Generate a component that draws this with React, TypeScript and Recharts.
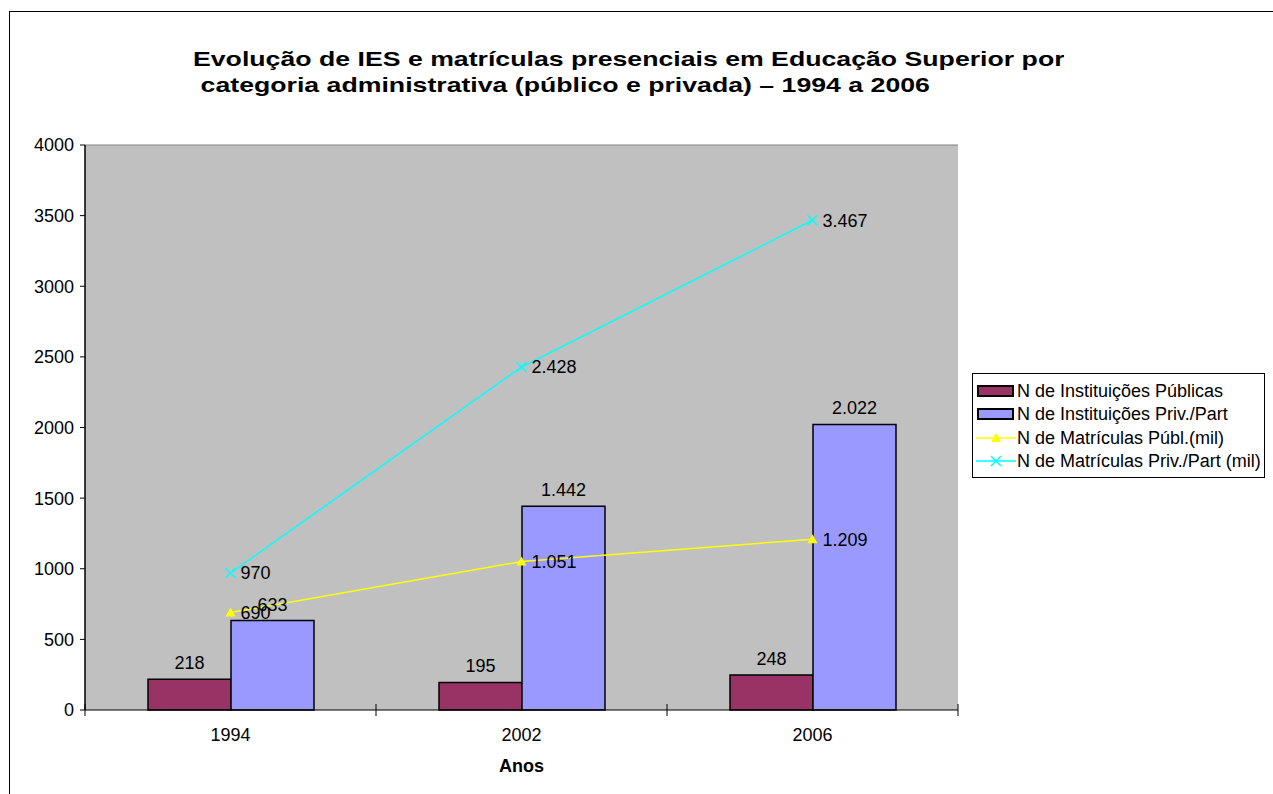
import {
  ComposedChart,
  Bar,
  Line,
  XAxis,
  YAxis,
  CartesianGrid,
  ReferenceLine,
  LabelList,
} from "recharts";

const anos = ["1994", "2002", "2006"];
const instPublicas = [218, 195, 248];
const instPrivadas = [633, 1442, 2022];
const matPublicas = [690, 1051, 1209];
const matPrivadas = [970, 2428, 3467];
const yTicks = [0, 500, 1000, 1500, 2000, 2500, 3000, 3500, 4000];

const seriesNames = {
  instPublicas: "N de Instituições Públicas",
  instPrivadas: "N de Instituições Priv./Part",
  matPublicas: "N de Matrículas Públ.(mil)",
  matPrivadas: "N de Matrículas Priv./Part (mil)",
};

const data = anos.map((ano, i) => ({
  ano,
  instPublicas: instPublicas[i],
  instPrivadas: instPrivadas[i],
  matPublicas: matPublicas[i],
  matPrivadas: matPrivadas[i],
}));

const FONT = "Arial, 'Liberation Sans', Helvetica, sans-serif";
const FS = 18;
const BAND = 873 / anos.length;

// thousands with a dot, as in the original spreadsheet
const fmt = (v: any) => String(v).replace(/\B(?=(\d{3})+(?!\d))/g, ".");

function XTick(props: any) {
  const { x, y, payload, index } = props;
  const axisY = y - 8;
  return (
    <g>
      <line x1={x - BAND / 2} x2={x - BAND / 2} y1={axisY - 6} y2={axisY + 6} stroke="#000" />
      {index === anos.length - 1 && (
        <line x1={x + BAND / 2} x2={x + BAND / 2} y1={axisY - 6} y2={axisY + 6} stroke="#000" />
      )}
      <text x={x} y={y + 10} dy="0.71em" textAnchor="middle" fontSize={FS} fill="#000" fontFamily={FONT}>
        {payload.value}
      </text>
    </g>
  );
}

function TriangleDot(props: any) {
  const { cx, cy } = props;
  if (cx == null || cy == null) return null;
  return <polygon points={`${cx},${cy - 5} ${cx - 5},${cy + 4} ${cx + 5},${cy + 4}`} fill="#FFFF00" />;
}

function CrossDot(props: any) {
  const { cx, cy } = props;
  if (cx == null || cy == null) return null;
  return (
    <g stroke="#00FFFF" strokeWidth={1.5}>
      <line x1={cx - 5} y1={cy - 5} x2={cx + 5} y2={cy + 5} />
      <line x1={cx - 5} y1={cy + 5} x2={cx + 5} y2={cy - 5} />
    </g>
  );
}

function LegendBox() {
  const row = (icon: React.ReactNode, label: string) => (
    <div style={{ display: "flex", alignItems: "center", height: 23.5 }}>
      <svg width={41} height={16} style={{ flex: "none" }}>
        {icon}
      </svg>
      <span style={{ whiteSpace: "nowrap" }}>{label}</span>
    </div>
  );
  return (
    <div
      style={{
        position: "absolute",
        left: 972,
        top: 373,
        width: 293,
        height: 105,
        overflow: "hidden",
        border: "1px solid #000",
        background: "#fff",
        padding: "5px 0 0 3px",
        fontFamily: FONT,
        fontSize: FS,
        color: "#000",
        boxSizing: "border-box",
        lineHeight: 1,
      }}
    >
      {row(<rect x={2} y={3} width={35} height={10} fill="#993366" stroke="#000" strokeWidth={2} />, seriesNames.instPublicas)}
      {row(<rect x={2} y={3} width={35} height={10} fill="#9999FF" stroke="#000" strokeWidth={2} />, seriesNames.instPrivadas)}
      {row(
        <g>
          <line x1={0} x2={40} y1={8} y2={8} stroke="#FFFF00" strokeWidth={1.5} />
          <TriangleDot cx={20} cy={8} />
        </g>,
        seriesNames.matPublicas
      )}
      {row(
        <g>
          <line x1={0} x2={40} y1={8} y2={8} stroke="#00FFFF" strokeWidth={1.5} />
          <CrossDot cx={20} cy={8} />
        </g>,
        seriesNames.matPrivadas
      )}
    </div>
  );
}

export default function App() {
  return (
    <div
      style={{
        position: "absolute",
        left: 0,
        top: 0,
        width: 1273,
        height: 794,
        overflow: "hidden",
        background: "#fff",
        fontFamily: FONT,
      }}
    >
      <div
        style={{
          position: "absolute",
          left: 9,
          top: 11,
          width: 1400,
          height: 900,
          border: "1px solid #000",
        }}
      />
      <div
        style={{
          position: "absolute",
          left: 193,
          top: 46,
          height: 51,
          overflow: "hidden",
          fontSize: 21,
          fontWeight: "bold",
          lineHeight: "26px",
          color: "#000",
          whiteSpace: "nowrap",
          transform: "scaleX(1.27)",
          transformOrigin: "left top",
        }}
      >
        <div>Evolução de IES e matrículas presenciais em Educação Superior por</div>
        <div style={{ paddingLeft: 6 }}>categoria administrativa (público e privada) – 1994 a 2006</div>
      </div>
      <ComposedChart
        width={1273}
        height={794}
        data={data}
        margin={{ top: 145, right: 315, left: 0, bottom: 0 }}
        barGap={0}
        style={{ position: "absolute", left: 0, top: 0 }}
      >
        <CartesianGrid fill="#C0C0C0" horizontal={false} vertical={false} />
        <XAxis
          dataKey="ano"
          height={84}
          interval={0}
          tick={<XTick />}
          tickLine={false}
          axisLine={{ stroke: "#000", strokeWidth: 1 }}
          label={{ value: "Anos", position: "insideBottom", offset: 22, fontSize: FS, fontWeight: "bold", fill: "#000", fontFamily: FONT }}
        />
        <YAxis
          width={85}
          domain={[0, 4000]}
          ticks={yTicks}
          interval={0}
          tickSize={5}
          tickMargin={6}
          tick={{ fontSize: FS, fill: "#000", fontFamily: FONT }}
          tickLine={{ stroke: "#000" }}
          axisLine={{ stroke: "#000", strokeWidth: 1.5 }}
        />
        <YAxis yAxisId="frame" orientation="right" width={0} domain={[0, 4000]} tick={false} tickLine={false} axisLine={{ stroke: "#808080" }} />
        <ReferenceLine y={4000} stroke="#808080" />
        <Bar dataKey="instPublicas" name={seriesNames.instPublicas} fill="#993366" stroke="#000" strokeWidth={1.5} barSize={83} isAnimationActive={false}>
          <LabelList dataKey="instPublicas" position="top" offset={10} formatter={fmt} fill="#000" fontSize={FS} fontFamily={FONT} />
        </Bar>
        <Bar dataKey="instPrivadas" name={seriesNames.instPrivadas} fill="#9999FF" stroke="#000" strokeWidth={1.5} barSize={83} isAnimationActive={false}>
          <LabelList dataKey="instPrivadas" position="top" offset={10} formatter={fmt} fill="#000" fontSize={FS} fontFamily={FONT} />
        </Bar>
        <Line type="linear" dataKey="matPublicas" name={seriesNames.matPublicas} stroke="#FFFF00" strokeWidth={1.5} dot={<TriangleDot />} activeDot={false} isAnimationActive={false}>
          <LabelList dataKey="matPublicas" position="right" offset={10} formatter={fmt} fill="#000" fontSize={FS} fontFamily={FONT} />
        </Line>
        <Line type="linear" dataKey="matPrivadas" name={seriesNames.matPrivadas} stroke="#00FFFF" strokeWidth={1.5} dot={<CrossDot />} activeDot={false} isAnimationActive={false}>
          <LabelList dataKey="matPrivadas" position="right" offset={10} formatter={fmt} fill="#000" fontSize={FS} fontFamily={FONT} />
        </Line>
      </ComposedChart>
      <LegendBox />
    </div>
  );
}
